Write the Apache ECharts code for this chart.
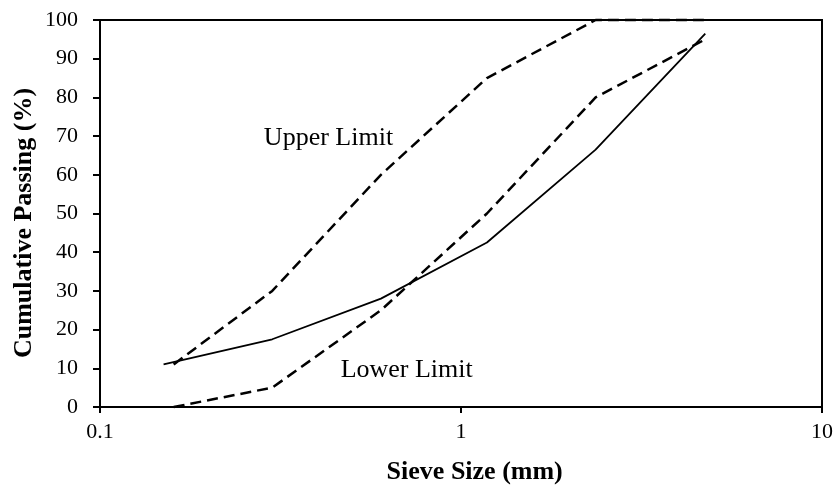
<!DOCTYPE html>
<html>
<head>
<meta charset="utf-8">
<script src="https://cdn.jsdelivr.net/npm/echarts@6/dist/echarts.min.js"></script>
<style>html,body{margin:0;padding:0;background:#fff}#c{width:836px;height:495px}</style>
</head>
<body>
<div id="c"></div>
<script>
var sieveLimits = [0.16, 0.3, 0.6, 1.18, 2.36, 4.75];
var upperLimit = [11, 30, 60, 85, 100, 100];
var lowerLimit = [0, 5, 25, 50, 80, 95];
var sieveGrad = [0.15, 0.3, 0.6, 1.18, 2.36, 4.75];
var gradation = [11, 17.5, 28, 42.5, 66.5, 96.5];
var xTicks = [0.1, 1, 10];
var yTicks = [0, 10, 20, 30, 40, 50, 60, 70, 80, 90, 100];

function pairs(xs, ys) { return xs.map(function (x, i) { return [x, ys[i]]; }); }

var font = '"Liberation Serif", "Times New Roman", serif';
var chart = echarts.init(document.getElementById('c'), null, {renderer: 'canvas'});
chart.setOption({
  animation: false,
  backgroundColor: '#fff',
  grid: {left: 100, right: 12, top: 20, bottom: 88, show: true, borderColor: '#000', borderWidth: 2},
  xAxis: {
    type: 'log', logBase: 10, min: xTicks[0], max: xTicks[xTicks.length - 1],
    axisLine: {show: true, lineStyle: {color: '#000', width: 2}},
    axisTick: {show: true, inside: false, length: 6, lineStyle: {color: '#000', width: 2}},
    minorTick: {show: false},
    splitLine: {show: false},
    axisLabel: {color: '#000', fontFamily: font, fontSize: 22, margin: 14,
      formatter: function (v) { return String(+v.toPrecision(6)); }}
  },
  yAxis: {
    type: 'value', min: yTicks[0], max: yTicks[yTicks.length - 1], interval: 10,
    axisLine: {show: true, lineStyle: {color: '#000', width: 2}},
    axisTick: {show: true, inside: false, length: 7, lineStyle: {color: '#000', width: 2}},
    splitLine: {show: false},
    axisLabel: {color: '#000', fontFamily: font, fontSize: 22, margin: 22}
  },
  graphic: [
    {type: 'text', x: 328.5, y: 138, style: {text: 'Upper Limit', font: '26px ' + font, fill: '#000', textAlign: 'center', textVerticalAlign: 'middle'}},
    {type: 'text', x: 406.7, y: 370.5, style: {text: 'Lower Limit', font: '26px ' + font, fill: '#000', textAlign: 'center', textVerticalAlign: 'middle'}},
    {type: 'text', x: 474.7, y: 472, style: {text: 'Sieve Size (mm)', font: 'bold 26px ' + font, fill: '#000', textAlign: 'center', textVerticalAlign: 'middle'}},
    {type: 'text', x: 24.5, y: 223, rotation: Math.PI / 2, style: {text: 'Cumulative Passing (%)', font: 'bold 26px ' + font, fill: '#000', textAlign: 'center', textVerticalAlign: 'middle'}}
  ],
  series: [
    {name: 'Upper Limit', type: 'line', data: pairs(sieveLimits, upperLimit), symbol: 'none', clip: false,
      lineStyle: {color: '#000', width: 2.5, type: [11, 6]}},
    {name: 'Lower Limit', type: 'line', data: pairs(sieveLimits, lowerLimit), symbol: 'none', clip: false,
      lineStyle: {color: '#000', width: 2.5, type: [11, 6]}},
    {name: 'Gradation', type: 'line', data: pairs(sieveGrad, gradation), symbol: 'none', clip: false,
      lineStyle: {color: '#000', width: 1.8, type: 'solid'}}
  ]
});
</script>
</body>
</html>
